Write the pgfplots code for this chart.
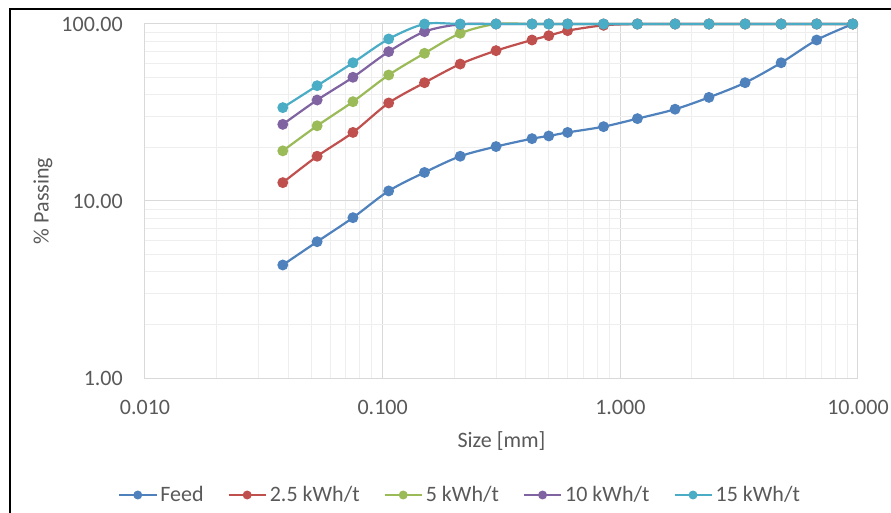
\documentclass[border=0pt]{standalone}
\usepackage{fontspec}
\setmainfont{Carlito}
\usepackage{pgfplots}
\pgfplotsset{compat=1.18}
\definecolor{cfeed}{HTML}{4F81BD}
\definecolor{cred}{HTML}{C0504D}
\definecolor{cgreen}{HTML}{9BBB59}
\definecolor{cpurple}{HTML}{8064A2}
\definecolor{ccyan}{HTML}{4BACC6}
\definecolor{tgray}{HTML}{595959}
\definecolor{majorg}{HTML}{D9D9D9}
\definecolor{minorg}{HTML}{EEEEEE}
\newcommand{\cf}{\fontsize{22bp}{26bp}\selectfont}

\pgfplotstableread{
x feed r25 g5 p10 c15
0.038 4.35 12.7 19.2 27.1 33.7
0.053 5.89 17.9 26.6 37.2 44.8
0.075 8.05 24.4 36.4 50.0 60.4
0.106 11.4 35.8 51.5 69.8 82.3
0.150 14.5 46.6 68.3 90.5 100
0.212 17.9 59.4 88.6 99.6 100
0.300 20.3 70.7 100 100 100
0.425 22.5 81.2 100 100 100
0.500 23.3 85.9 100 100 100
0.600 24.4 91.7 100 100 100
0.850 26.3 98.3 100 100 100
1.180 29.2 100 100 100 100
1.700 33.0 100 100 100 100
2.360 38.5 100 100 100 100
3.350 46.6 100 100 100 100
4.750 60.4 100 100 100 100
6.700 81.2 100 100 100 100
9.500 100 100 100 100 100
}\datatable

\begin{document}
\begin{tikzpicture}
\useasboundingbox (-145bp,-135bp) rectangle (746bp,378bp);
\draw[line width=1.5bp, black] (-135bp,-140bp) -- (-135bp,369bp) -- (750bp,369bp);
\begin{axis}[
  at={(0,0)}, anchor=south west,
  xmode=log, ymode=log,
  xmin=0.01, xmax=10, ymin=1, ymax=100,
  width=713bp, height=354bp, scale only axis,
  xtick={0.01,0.1,1,10}, xticklabels={0.010,0.100,1.000,10.000},
  ytick={1,10,100}, yticklabels={1.00,10.00,100.00},
  minor xtick={0.02,0.03,0.04,0.05,0.06,0.07,0.08,0.09,0.2,0.3,0.4,0.5,0.6,0.7,0.8,0.9,2,3,4,5,6,7,8,9},
  minor ytick={2,3,4,5,6,7,8,9,20,30,40,50,60,70,80,90},
  grid=both,
  major grid style={majorg, line width=1bp},
  minor grid style={minorg, line width=0.8bp},
  axis line style={majorg, line width=1bp},
  major tick length=0pt, minor tick length=0pt,
  tick label style={font=\cf, text=tgray},
  xticklabel style={anchor=center, yshift=-29bp, inner sep=0pt},
  yticklabel style={anchor=east, xshift=-22bp, inner sep=0pt},
  xlabel={Size [mm]}, ylabel={\% Passing},
  label style={font=\cf, text=tgray},
  xlabel style={at={(axis description cs:0.5,-0.178)}, anchor=center},
  ylabel style={at={(axis description cs:-0.1431,0.5)}, anchor=center},
  clip=false,
  every axis plot/.append style={line width=2.2bp, smooth, mark=*, mark size=4.3bp},
  legend image code/.code={\draw[mark repeat=2,mark phase=2,#1,mark size=3.3bp] plot coordinates {(0bp,0bp) (18.5bp,0bp) (37bp,0bp)};},
  legend style={draw=none, fill=none, font=\cf, text=tgray,
    at={(axis description cs:-0.0379,-0.3305)}, anchor=west,
    legend columns=5, inner sep=0pt,
    nodes={inner xsep=3bp, inner ysep=0pt},
    /tikz/every even column/.append style={column sep=21bp}},
]
\addplot[cfeed] table[x=x,y=feed]{\datatable};
\addlegendentry{Feed}
\addplot[cred] table[x=x,y=r25]{\datatable};
\addlegendentry{2.5 kWh/t}
\addplot[cgreen] table[x=x,y=g5]{\datatable};
\addlegendentry{5 kWh/t}
\addplot[cpurple] table[x=x,y=p10]{\datatable};
\addlegendentry{10 kWh/t}
\addplot[ccyan] table[x=x,y=c15]{\datatable};
\addlegendentry{15 kWh/t}
\end{axis}
\end{tikzpicture}
\end{document}
